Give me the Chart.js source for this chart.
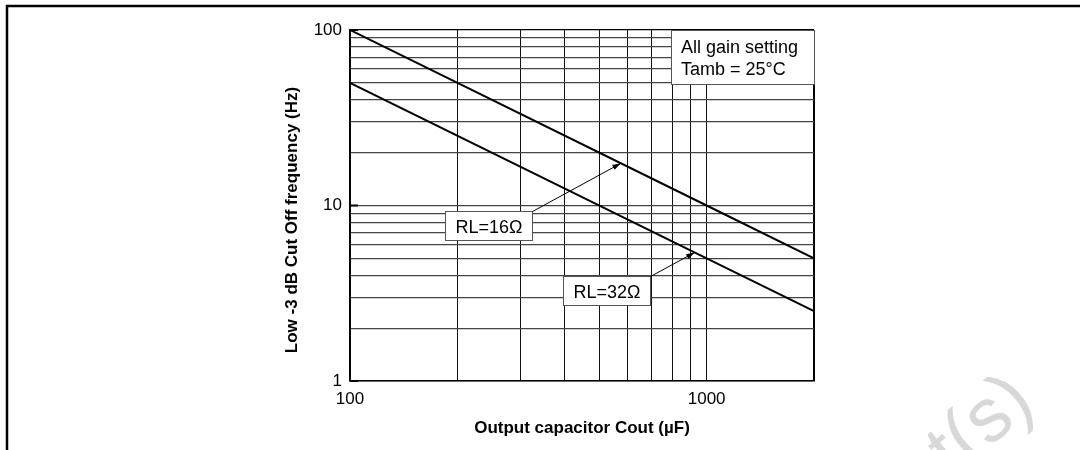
<!DOCTYPE html>
<html>
<head>
<meta charset="utf-8">
<script src="https://cdn.jsdelivr.net/npm/chart.js@4.4.0/dist/chart.umd.min.js"></script>
<style>
  html, body { margin: 0; padding: 0; background: #fff; }
  #wrap { width: 1080px; height: 450px; position: relative; }
</style>
</head>
<body>
<div id="wrap"><canvas id="cutoff"></canvas></div>
<script>
// values (log-log, straight lines)
const capacitance = [100, 1000, 2000];
const cutoff16 = [100, 10, 5];
const cutoff32 = [50, 5, 2.5];
const seriesNames = ['RL=16Ω', 'RL=32Ω'];
const xTickLabels = [100, 1000];
const yTickLabels = [1, 10, 100];
const infoLines = ['All gain setting', 'Tamb = 25°C'];

// label boxes: top-left corner and arrow tip, in data units
const labelCorner = [[184.6, 9.33], [395, 3.97]];
const arrowTip = [[575, 17.4], [926, 5.4]];

const FONT = '"Liberation Sans", Arial, Helvetica, sans-serif';

function toPoints(xs, ys) {
    return xs.map((x, i) => ({ x: x, y: ys[i] }));
}

// keep only 1..9 x 10^n grid lines (drop chart.js' extra 1.5 / 15 / 1500)
function wholeDecadeSteps(scale) {
    scale.ticks = scale.ticks.filter(t => {
        const m = t.value / Math.pow(10, Math.floor(Math.log10(t.value) + 1e-9));
        return Math.abs(m - Math.round(m)) < 1e-6;
    });
}

function arrow(ctx, x0, y0, x1, y1) {
    ctx.beginPath();
    ctx.moveTo(x0, y0);
    ctx.lineTo(x1, y1);
    ctx.stroke();
    const a = Math.atan2(y1 - y0, x1 - x0);
    ctx.beginPath();
    ctx.moveTo(x1, y1);
    ctx.lineTo(x1 - 9 * Math.cos(a - 0.3), y1 - 9 * Math.sin(a - 0.3));
    ctx.lineTo(x1 - 9 * Math.cos(a + 0.3), y1 - 9 * Math.sin(a + 0.3));
    ctx.closePath();
    ctx.fill();
}

const decor = {
    id: 'decor',
    beforeDraw(chart) {
        const ctx = chart.ctx;
        ctx.save();
        ctx.fillStyle = '#fff';
        ctx.fillRect(0, 0, chart.width, chart.height);
        // faint watermark, mostly off the page
        ctx.translate(1037, 407);
        ctx.rotate(-40 * Math.PI / 180);
        ctx.font = '76px ' + FONT;
        ctx.fillStyle = '#d8d8d8';
        ctx.textAlign = 'right';
        ctx.fillText('Obsolete Product(s)', 0, 0);
        ctx.restore();
    },
    afterDraw(chart) {
        const ctx = chart.ctx;
        const area = chart.chartArea;
        const xs = chart.scales.x, ys = chart.scales.y;
        ctx.save();

        // page frame
        ctx.strokeStyle = '#000';
        ctx.lineWidth = 2.5;
        ctx.beginPath();
        ctx.moveTo(1080, 6);
        ctx.lineTo(7, 6);
        ctx.lineTo(7, 450);
        ctx.stroke();

        // inward major ticks on the y axis
        ctx.lineWidth = 2;
        yTickLabels.forEach(v => {
            const y = ys.getPixelForValue(v);
            ctx.beginPath();
            ctx.moveTo(area.left, y);
            ctx.lineTo(area.left + 8, y);
            ctx.stroke();
        });

        // y axis title
        ctx.save();
        ctx.translate(292, 220);
        ctx.rotate(-Math.PI / 2);
        ctx.font = 'bold 17px ' + FONT;
        ctx.fillStyle = '#000';
        ctx.textAlign = 'center';
        ctx.textBaseline = 'middle';
        ctx.fillText('Low -3 dB Cut Off frequency (Hz)', 0, 0);
        ctx.restore();

        // conditions box
        const bx = area.right - 143, by = area.top;
        ctx.fillStyle = '#fff';
        ctx.fillRect(bx, by, 143, 54);
        ctx.strokeStyle = '#555';
        ctx.lineWidth = 1;
        ctx.strokeRect(bx + 0.5, by + 0.5, 143, 54);
        ctx.fillStyle = '#000';
        ctx.font = '18px ' + FONT;
        ctx.textAlign = 'left';
        ctx.textBaseline = 'alphabetic';
        infoLines.forEach((t, i) => ctx.fillText(t, bx + 10, by + 23 + i * 22));

        // series label boxes with arrows
        seriesNames.forEach((name, i) => {
            const lx = Math.round(xs.getPixelForValue(labelCorner[i][0])) + 0.5;
            const ly = Math.round(ys.getPixelForValue(labelCorner[i][1])) + 0.5;
            const w = 87, h = 29;
            ctx.fillStyle = '#fff';
            ctx.fillRect(lx, ly, w, h);
            ctx.strokeStyle = '#555';
            ctx.lineWidth = 1;
            ctx.strokeRect(lx, ly, w, h);
            ctx.fillStyle = '#000';
            ctx.textAlign = 'center';
            ctx.fillText(name, lx + w / 2, ly + 21);
            ctx.strokeStyle = '#000';
            ctx.lineWidth = 1;
            arrow(ctx, lx + w, ly,
                xs.getPixelForValue(arrowTip[i][0]),
                ys.getPixelForValue(arrowTip[i][1]));
        });
        ctx.restore();
    }
};

new Chart(document.getElementById('cutoff'), {
    type: 'line',
    data: {
        datasets: [{
            label: seriesNames[0],
            data: toPoints(capacitance, cutoff16),
            borderColor: '#000',
            borderWidth: 2,
            pointRadius: 0,
            tension: 0
        }, {
            label: seriesNames[1],
            data: toPoints(capacitance, cutoff32),
            borderColor: '#000',
            borderWidth: 2,
            pointRadius: 0,
            tension: 0
        }]
    },
    options: {
        responsive: true,
        maintainAspectRatio: false,
        animation: false,
        events: [],
        layout: {
            padding: { left: 270, right: 266, top: 30, bottom: 0 }
        },
        plugins: {
            legend: { display: false },
            tooltip: { enabled: false }
        },
        scales: {
            x: {
                type: 'logarithmic',
                min: 100,
                max: 2000,
                afterBuildTicks: wholeDecadeSteps,
                afterFit: s => { s.height = 69; },
                border: { color: '#000', width: 1.5 },
                grid: {
                    drawTicks: false,
                    color: ctx => ctx.tick && ctx.tick.value === 2000 ? '#000' : '#111',
                    lineWidth: ctx => ctx.tick && ctx.tick.value === 2000 ? 2 : 1
                },
                ticks: {
                    autoSkip: false,
                    maxRotation: 0,
                    padding: 8,
                    color: '#000',
                    font: { family: FONT, size: 17 },
                    callback: v => xTickLabels.includes(v) ? String(v) : ''
                },
                title: {
                    display: true,
                    text: 'Output capacitor Cout (µF)',
                    color: '#000',
                    font: { family: FONT, size: 17, weight: 'bold' },
                    padding: { top: 0, bottom: 11 }
                }
            },
            y: {
                type: 'logarithmic',
                min: 1,
                max: 100,
                afterBuildTicks: wholeDecadeSteps,
                afterFit: s => { s.width = 80; },
                border: { color: '#000', width: 1.5 },
                grid: {
                    drawTicks: false,
                    color: ctx => ctx.tick && ctx.tick.value === 100 ? '#000' : '#444',
                    lineWidth: 1.2
                },
                ticks: {
                    autoSkip: false,
                    padding: 8,
                    color: '#000',
                    font: { family: FONT, size: 17 },
                    callback: v => yTickLabels.includes(v) ? String(v) : ''
                },
                title: { display: false }
            }
        }
    },
    plugins: [decor]
});
</script>
</body>
</html>
